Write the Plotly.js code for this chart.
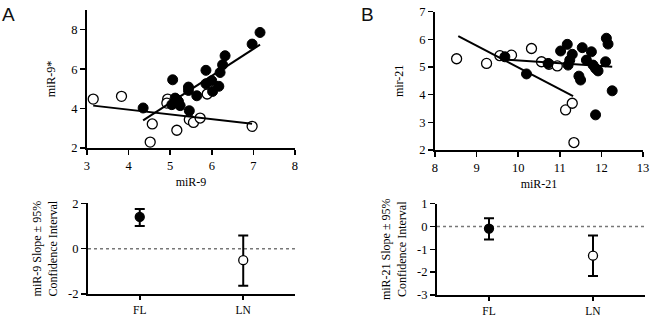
<!DOCTYPE html>
<html><head><meta charset="utf-8">
<script src="https://cdn.plot.ly/plotly-3.0.1.min.js"></script>
<style>html,body{margin:0;padding:0;background:#fff}#c{width:650px;height:319px}</style>
</head><body><div id="c"></div>
<script>
// Panel A scatter (miR-9 vs miR-9*)
const aFL_x = [4.35,5.06,5.12,5.04,5.20,5.24,5.44,5.44,5.46,5.64,5.86,5.86,6.00,6.02,6.17,6.20,6.26,6.32,6.97,7.16,5.16];
const aFL_y = [4.03,5.46,4.53,4.20,4.36,4.15,5.09,4.92,3.89,4.65,5.94,5.26,5.41,4.87,5.13,5.83,6.22,6.68,7.27,7.86,4.45];
const aLN_x = [3.15,3.83,4.57,4.52,4.94,4.92,5.16,5.46,5.56,5.72,5.89,6.97];
const aLN_y = [4.48,4.62,3.22,2.30,4.48,4.28,2.90,3.44,3.30,3.52,4.74,3.10];
const aFLfit_x = [4.35,7.16], aFLfit_y = [3.40,7.24];
const aLNfit_x = [3.15,6.97], aLNfit_y = [4.15,3.23];
// Panel B scatter (miR-21 vs mir-21)
const bFL_x = [9.68,10.20,10.72,11.02,11.18,11.30,11.24,11.20,11.46,11.50,11.54,11.64,11.76,11.80,11.86,11.92,11.86,12.12,12.16,12.10,12.26];
const bFL_y = [5.37,4.75,5.13,5.58,5.82,5.46,5.25,5.07,4.67,4.53,5.70,5.25,5.55,5.07,4.95,4.86,3.27,6.04,5.83,5.19,4.14];
const bLN_x = [8.52,9.24,9.56,9.84,10.32,10.56,10.74,10.94,11.14,11.30,11.34];
const bLN_y = [5.30,5.13,5.41,5.43,5.67,5.19,5.10,5.04,3.45,3.69,2.27];
const bFLfit_x = [9.58,12.26], bFLfit_y = [5.28,5.01];
const bLNfit_x = [8.56,11.32], bLNfit_y = [6.12,3.95];
// Slopes with 95% CI
const groups = ['FL','LN'];
const slopeA = [1.40,-0.51], ciA_hi = [1.75,0.58], ciA_lo = [1.00,-1.64];
const slopeB = [-0.09,-1.28], ciB_hi = [0.36,-0.40], ciB_lo = [-0.57,-2.17];
// Tick labels
const ticksA3 = [-2,0,2], ticktextA3 = ['-2','0','2'];
const ticksB4 = [-3,-2,-1,0,1], ticktextB4 = ['-3','-2','-1','0','1'];

const serif = 'Liberation Serif, Times New Roman, serif';
const filled = {size:10, color:'#000', line:{color:'#000', width:1}};
const open = {size:10, color:'#fff', line:{color:'#000', width:1.3}};
const fitLine = {color:'#000', width:2};

function errs(mid, hi, lo){
  return {type:'data', array: hi.map((h,i)=>h-mid[i]), arrayminus: lo.map((l,i)=>mid[i]-l),
          thickness:2, width:5, color:'#000'};
}

const traces = [
  {x:aLN_x, y:aLN_y, mode:'markers', marker:open, xaxis:'x', yaxis:'y'},
  {x:aFL_x, y:aFL_y, mode:'markers', marker:filled, xaxis:'x', yaxis:'y'},
  {x:aFLfit_x, y:aFLfit_y, mode:'lines', line:fitLine, xaxis:'x', yaxis:'y'},
  {x:aLNfit_x, y:aLNfit_y, mode:'lines', line:fitLine, xaxis:'x', yaxis:'y'},
  {x:bLN_x, y:bLN_y, mode:'markers', marker:open, xaxis:'x2', yaxis:'y2'},
  {x:bFL_x, y:bFL_y, mode:'markers', marker:filled, xaxis:'x2', yaxis:'y2'},
  {x:bFLfit_x, y:bFLfit_y, mode:'lines', line:fitLine, xaxis:'x2', yaxis:'y2'},
  {x:bLNfit_x, y:bLNfit_y, mode:'lines', line:fitLine, xaxis:'x2', yaxis:'y2'},
  {x:groups, y:slopeA, mode:'markers', error_y:errs(slopeA,ciA_hi,ciA_lo),
   marker:{size:9, color:['#000','#fff'], line:{color:'#000', width:1.3}}, xaxis:'x3', yaxis:'y3'},
  {x:groups, y:slopeB, mode:'markers', error_y:errs(slopeB,ciB_hi,ciB_lo),
   marker:{size:9, color:['#000','#fff'], line:{color:'#000', width:1.3}}, xaxis:'x4', yaxis:'y4'}
];

const tickF = {family:serif, size:12.5, color:'#000'};
const tickFsmall = {family:serif, size:11.5, color:'#000'};
const titleF = {family:serif, size:12, color:'#000'};
function ax(extra){
  return Object.assign({showline:true, linecolor:'#000', linewidth:2, ticks:'outside', ticklen:5,
    tickwidth:1.5, tickcolor:'#000', showgrid:false, zeroline:false, tickfont:tickF, fixedrange:true}, extra);
}

const layout = {
  width:650, height:319, margin:{l:0,r:0,t:0,b:0}, showlegend:false,
  paper_bgcolor:'#fff', plot_bgcolor:'#fff',
  xaxis: ax({domain:[0.1338,0.4538], range:[3,8], dtick:1, anchor:'y',
    title:{text:'miR-9', font:titleF, standoff:6}}),
  yaxis: ax({domain:[0.536,0.9687], range:[2,9], tickvals:[2,4,6,8], anchor:'x',
    title:{text:'miR-9*', font:titleF, standoff:13}}),
  xaxis2: ax({domain:[0.6692,0.9892], range:[8,13], dtick:1, anchor:'y2',
    title:{text:'miR-21', font:titleF, standoff:6}}),
  yaxis2: ax({domain:[0.5298,0.9633], range:[2,7], dtick:1, anchor:'x2',
    title:{text:'mir-21', font:titleF, standoff:13}}),
  xaxis3: ax({domain:[0.1354,0.4538], range:[-0.5,1.5], type:'category', anchor:'y3',
    tickfont:tickFsmall, ticklen:4}),
  yaxis3: ax({domain:[0.0785,0.3625], range:[-2,2], tickvals:ticksA3, ticktext:ticktextA3, anchor:'x3',
    title:{text:'miR-9 Slope \u00b1 95%<br>Confidence Interval', font:titleF, standoff:8}}),
  xaxis4: ax({domain:[0.6723,0.9923], range:[-0.5,1.5], type:'category', anchor:'y4',
    tickfont:tickFsmall, ticklen:4}),
  yaxis4: ax({domain:[0.0755,0.3615], range:[-3,1], tickvals:ticksB4, ticktext:ticktextB4, anchor:'x4',
    title:{text:'miR-21 Slope \u00b1 95%<br>Confidence Interval', font:titleF, standoff:8}}),
  shapes:[
    {type:'line', xref:'x3 domain', yref:'y3', x0:0, x1:1, y0:0, y1:0, layer:'below',
     line:{color:'#777', width:1.5, dash:'dot'}},
    {type:'line', xref:'x4 domain', yref:'y4', x0:0, x1:1, y0:0, y1:0, layer:'below',
     line:{color:'#777', width:1.5, dash:'dot'}}
  ],
  annotations:[
    {text:'A', xref:'paper', yref:'paper', x:0.0, y:0.995, xanchor:'left', yanchor:'top', showarrow:false,
     font:{family:'Liberation Sans, Arial, sans-serif', size:19, color:'#111'}},
    {text:'B', xref:'paper', yref:'paper', x:0.552, y:0.995, xanchor:'left', yanchor:'top', showarrow:false,
     font:{family:'Liberation Sans, Arial, sans-serif', size:19, color:'#111'}}
  ]
};
Plotly.newPlot('c', traces, layout, {staticPlot:true, displayModeBar:false});
</script></body></html>
